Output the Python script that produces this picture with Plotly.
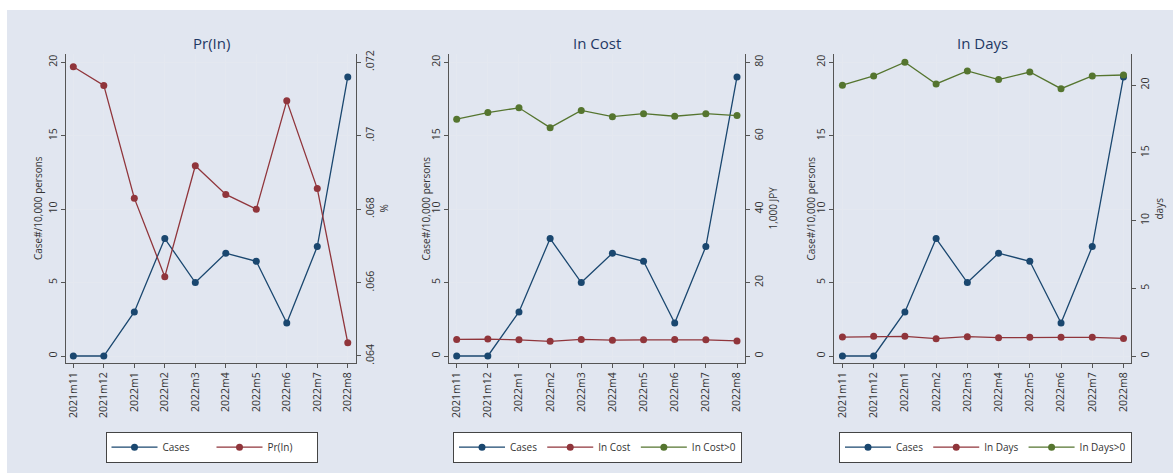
import plotly.graph_objects as go

W, H = 1173, 473

months = ["2021m11", "2021m12", "2022m1", "2022m2", "2022m3",
          "2022m4", "2022m5", "2022m6", "2022m7", "2022m8"]

cases = [0.0, 0.0, 3.0, 8.0, 5.0, 7.0, 6.45, 2.25, 7.45, 19.0]

pr_in = [0.07188, 0.07137, 0.06830, 0.06616, 0.06918,
         0.06840, 0.06800, 0.07095, 0.06856, 0.06436]

in_cost = [4.5, 4.6, 4.4, 4.0, 4.5, 4.3, 4.4, 4.5, 4.4, 4.1]
in_cost_pos = [64.5, 66.3, 67.6, 62.2, 66.9, 65.2, 66.0, 65.3, 66.0, 65.5]

in_days = [1.40, 1.45, 1.45, 1.28, 1.43, 1.35, 1.38, 1.38, 1.38, 1.30]
in_days_pos = [20.0, 20.68, 21.69, 20.09, 21.05, 20.41, 20.97, 19.74, 20.68, 20.75]

NAVY = "#1A476F"
MAROON = "#90353B"
GREEN = "#55752F"
BG = "#E1E6F0"
GRID = "#E4E8F0"
AXIS = "#555555"
TXT = "#333333"
FONT = "Open Sans"


def px_x(p):
    return p / W


def px_y(p):
    return 1 - p / H


# plot-region extents in pixels (left, right); shared top/bottom
panels = [(66, 356), (449, 745), (834, 1131)]
top, bottom = 54, 363
ydom = [px_y(bottom), px_y(top)]

left_range = [-0.477, 20.565]
right_ranges = [
    [0.063809, 0.072226],
    [-1.908, 82.26],
    [-0.517, 22.30],
]
right_ticks = [
    ([0.064, 0.066, 0.068, 0.070, 0.072], [".064", ".066", ".068", ".07", ".072"]),
    ([0, 20, 40, 60, 80], ["0", "20", "40", "60", "80"]),
    ([0, 5, 10, 15, 20], ["0", "5", "10", "15", "20"]),
]
right_titles = ["%", "1,000 JPY", "days"]
titles = ["Pr(In)", "In Cost", "In Days"]
x_ranges = [[-0.24, 9.27], [-0.247, 9.257], [-0.27, 9.24]]

fig = go.Figure()

line_w = 1.3
msize = 7


def add_series(name, y, color, xa, ya, legend):
    fig.add_trace(go.Scatter(
        x=months, y=y, name=name, mode="lines+markers",
        line=dict(color=color, width=line_w),
        marker=dict(color=color, size=msize),
        xaxis=xa, yaxis=ya, legend=legend,
    ))


# Panel 1: cases and probability
add_series("Cases", cases, NAVY, "x", "y", "legend")
add_series("Pr(In)", pr_in, MAROON, "x", "y2", "legend")
# Panel 2: cases and cost
add_series("Cases", cases, NAVY, "x2", "y3", "legend2")
add_series("In Cost", in_cost, MAROON, "x2", "y4", "legend2")
add_series("In Cost>0", in_cost_pos, GREEN, "x2", "y4", "legend2")
# Panel 3: cases and days
add_series("Cases", cases, NAVY, "x3", "y5", "legend3")
add_series("In Days", in_days, MAROON, "x3", "y6", "legend3")
add_series("In Days>0", in_days_pos, GREEN, "x3", "y6", "legend3")

layout = dict(
    width=W, height=H,
    margin=dict(l=0, r=0, t=0, b=0),
    paper_bgcolor="white",
    plot_bgcolor="white",
    font=dict(family=FONT, color=TXT, size=10.5),
    shapes=[dict(type="rect", xref="paper", yref="paper",
                 x0=px_x(7), x1=1, y0=0, y1=px_y(10),
                 fillcolor=BG, line=dict(width=0), layer="below")],
    annotations=[],
)

tick_font = dict(family=FONT, size=10.5, color=TXT)

legend_left = [105.5, 453, 839]
legend_entry_w = [44, 0, 0]
legend_keys = ["legend", "legend2", "legend3"]
left_title_x = [37.5, 425, 810]
right_title_x = [383, 772, 1158]

for i, (l, r) in enumerate(panels):
    n = i + 1
    xk = "xaxis" if n == 1 else f"xaxis{n}"
    yl = 2 * i + 1
    yr = 2 * i + 2
    ylk = "yaxis" if yl == 1 else f"yaxis{yl}"
    yrk = f"yaxis{yr}"
    xname = "x" if n == 1 else f"x{n}"
    ylname = "y" if yl == 1 else f"y{yl}"

    layout[xk] = dict(
        domain=[px_x(l), px_x(r)], anchor=ylname,
        type="category", range=x_ranges[i],
        tickangle=-90, tickfont=tick_font,
        showline=True, linecolor=AXIS, linewidth=1,
        ticks="outside", ticklen=4, tickcolor=AXIS,
        showgrid=True, gridcolor=GRID, gridwidth=1,
        zeroline=False, automargin=False, fixedrange=True,
    )
    layout[ylk] = dict(
        domain=ydom, anchor=xname, range=left_range,
        tickvals=[0, 5, 10, 15, 20], ticktext=["0", "5", "10", "15", "20"],
        tickangle=-90, tickfont=tick_font,
        showline=True, linecolor=AXIS, linewidth=1,
        ticks="outside", ticklen=4, tickcolor=AXIS,
        showgrid=True, gridcolor=GRID, gridwidth=1,
        zeroline=False, automargin=False, fixedrange=True,
    )
    tv, tt = right_ticks[i]
    layout[yrk] = dict(
        domain=ydom, anchor=xname, overlaying=ylname, side="right",
        range=right_ranges[i], tickvals=tv, ticktext=tt,
        tickangle=-90, tickfont=tick_font,
        showline=True, linecolor=AXIS, linewidth=1,
        ticks="outside", ticklen=4, tickcolor=AXIS,
        showgrid=False, zeroline=False, automargin=False, fixedrange=True,
    )

    # panel title
    layout["annotations"].append(dict(
        text=titles[i], xref="paper", yref="paper",
        x=px_x((l + r) / 2), y=px_y(42.7), xanchor="center", yanchor="middle",
        showarrow=False, font=dict(family=FONT, size=15, color="#1F3864"),
    ))
    # left axis title
    layout["annotations"].append(dict(
        text="Case#/10,000 persons", xref="paper", yref="paper",
        x=px_x(left_title_x[i]), y=px_y((top + bottom) / 2),
        xanchor="center", yanchor="middle", textangle=-90,
        showarrow=False, font=dict(family=FONT, size=10, color=TXT),
    ))
    # right axis title
    layout["annotations"].append(dict(
        text=right_titles[i], xref="paper", yref="paper",
        x=px_x(right_title_x[i]), y=px_y((top + bottom) / 2),
        xanchor="center", yanchor="middle", textangle=-90,
        showarrow=False, font=dict(family=FONT, size=10, color=TXT),
    ))

    leg = dict(
        x=px_x(legend_left[i]), y=px_y(431.7), xanchor="left", yanchor="top",
        orientation="h", bgcolor="white", bordercolor="#444444", borderwidth=1,
        font=dict(family=FONT, size=10, color=TXT),
        itemwidth=46, itemclick=False, itemdoubleclick=False,
    )
    if legend_entry_w[i]:
        leg.update(entrywidth=legend_entry_w[i], entrywidthmode="pixels")
    layout[legend_keys[i]] = leg

fig.update_layout(**layout)
fig.write_html("out.html")
